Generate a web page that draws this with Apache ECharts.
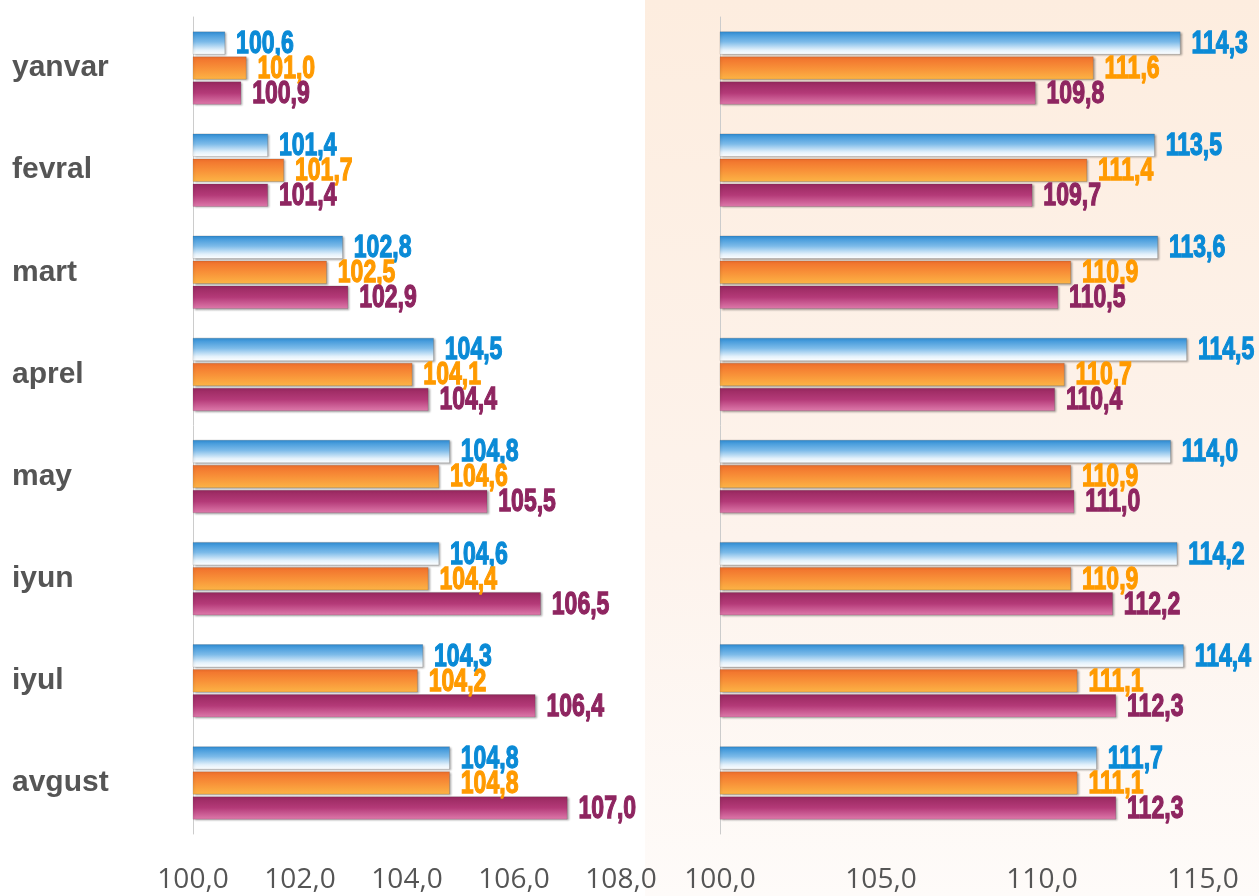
<!DOCTYPE html>
<html>
<head>
<meta charset="utf-8">
<script src="https://cdn.jsdelivr.net/npm/echarts@6/dist/echarts.min.js"></script>
<style>
  html, body { margin: 0; padding: 0; background: #fff; }
  #main { width: 1259px; height: 896px; }
</style>
</head>
<body>
<div id="main"></div>
<script>
// oylar
let categories = ['yanvar', 'fevral', 'mart', 'aprel', 'may', 'iyun', 'iyul', 'avgust']

// chap panel
let leftBlue = [100.6, 101.4, 102.8, 104.5, 104.8, 104.6, 104.3, 104.8]
let leftOrange = [101.0, 101.7, 102.5, 104.1, 104.6, 104.4, 104.2, 104.8]
let leftMaroon = [100.9, 101.4, 102.9, 104.4, 105.5, 106.5, 106.4, 107.0]
let leftTicks = [100, 102, 104, 106, 108]

// o'ng panel
let rightBlue = [114.3, 113.5, 113.6, 114.5, 114.0, 114.2, 114.4, 111.7]
let rightOrange = [111.6, 111.4, 110.9, 110.7, 110.9, 110.9, 111.1, 111.1]
let rightMaroon = [109.8, 109.7, 110.5, 110.4, 111.0, 112.2, 112.3, 112.3]
let rightTicks = [100, 105, 110, 115]

let BAR_W = 23
let BAR_GAP = 2
let PITCH = BAR_W + BAR_GAP

let fmt = function (v) {
  return v.toFixed(1).replace('.', ',')
}

let grad = function (stops) {
  return new echarts.graphic.LinearGradient(0, 0, 0, 1,
    stops.map(s => ({ offset: s[0], color: s[1] })))
}

let colors = {
  blue: { label: '#0a8ad6', fill: () => grad([[0, '#2f8ed6'], [0.45, '#7dbbe9'], [0.8, '#e3f1fb'], [1, '#ffffff']]) },
  orange: { label: '#ff9a00', fill: () => grad([[0, '#f06f2c'], [0.5, '#f89038'], [1, '#fcb445']]) },
  maroon: { label: '#8e2560', fill: () => grad([[0, '#98285f'], [0.5, '#b43a78'], [1, '#de7aab']]) }
}

let makeBars = function (data, key, idx) {
  return {
    type: 'bar',
    data: data,
    xAxisIndex: idx,
    yAxisIndex: idx,
    barWidth: BAR_W,
    barGap: (BAR_GAP / BAR_W * 100) + '%',
    itemStyle: {
      color: colors[key].fill(),
      borderColor: 'rgba(60,60,60,0.35)',
      borderWidth: 0.5,
      shadowColor: 'rgba(0,0,0,0.35)',
      shadowBlur: 2,
      shadowOffsetX: 1.5,
      shadowOffsetY: 1
    }
  }
}

// qiymat yorliqlari: tor shrift (scaleX bilan siqilgan)
let makeLabels = function (data, key, idx, slot) {
  return {
    type: 'custom',
    xAxisIndex: idx,
    yAxisIndex: idx,
    z: 5,
    silent: true,
    data: data.map((v, i) => [v, i]),
    encode: { x: 0, y: 1 },
    renderItem: function (params, api) {
      let v = api.value(0)
      let pt = api.coord([v, api.value(1)])
      return {
        type: 'text',
        x: pt[0] + 11,
        y: pt[1] + slot * PITCH + 1,
        scaleX: 0.72,
        style: {
          text: fmt(v),
          fill: colors[key].label,
          stroke: colors[key].label,
          lineWidth: 1.3,
          fontFamily: '"Liberation Sans", Arial, sans-serif',
          fontWeight: 'bold',
          fontSize: 32,
          align: 'left',
          verticalAlign: 'middle'
        }
      }
    }
  }
}

let xAxisCfg = function (ticks, idx) {
  return {
    type: 'value',
    gridIndex: idx,
    min: ticks[0],
    max: ticks[ticks.length - 1],
    interval: ticks[1] - ticks[0],
    axisLine: { show: false },
    axisTick: { show: false },
    splitLine: { show: false },
    axisLabel: {
      margin: 32,
      formatter: v => fmt(v),
      color: '#555',
      fontFamily: '"Open Sans", sans-serif',
      fontSize: 28
    }
  }
}

let yAxisCfg = function (idx, showLabel) {
  return {
    type: 'category',
    gridIndex: idx,
    data: categories,
    inverse: true,
    axisLine: { show: true, lineStyle: { color: '#cccccc', width: 1 } },
    axisTick: { show: false },
    axisLabel: {
      show: showLabel,
      align: 'left',
      margin: 181,
      color: '#555',
      fontFamily: '"Liberation Sans", Arial, sans-serif',
      fontWeight: 'bold',
      fontSize: 30
    }
  }
}

let chart = echarts.init(document.getElementById('main'))

let option = {
  animation: false,
  backgroundColor: '#ffffff',
  graphic: [
    {
      type: 'rect',
      z: -100,
      silent: true,
      shape: { x: 645, y: 0, width: 614, height: 896 },
      style: { fill: grad([[0, '#fdeddf'], [0.6, '#fdf3ec'], [1, '#fefbf9']]) }
    }
  ],
  grid: [
    { left: 193, top: 17, width: 428, height: 817 },
    { left: 720, top: 17, width: 483, height: 817 }
  ],
  xAxis: [xAxisCfg(leftTicks, 0), xAxisCfg(rightTicks, 1)],
  yAxis: [yAxisCfg(0, true), yAxisCfg(1, false)],
  series: [
    makeBars(leftBlue, 'blue', 0),
    makeBars(leftOrange, 'orange', 0),
    makeBars(leftMaroon, 'maroon', 0),
    makeBars(rightBlue, 'blue', 1),
    makeBars(rightOrange, 'orange', 1),
    makeBars(rightMaroon, 'maroon', 1),
    makeLabels(leftBlue, 'blue', 0, -1),
    makeLabels(leftOrange, 'orange', 0, 0),
    makeLabels(leftMaroon, 'maroon', 0, 1),
    makeLabels(rightBlue, 'blue', 1, -1),
    makeLabels(rightOrange, 'orange', 1, 0),
    makeLabels(rightMaroon, 'maroon', 1, 1)
  ]
}
chart.setOption(option)
</script>
</body>
</html>
